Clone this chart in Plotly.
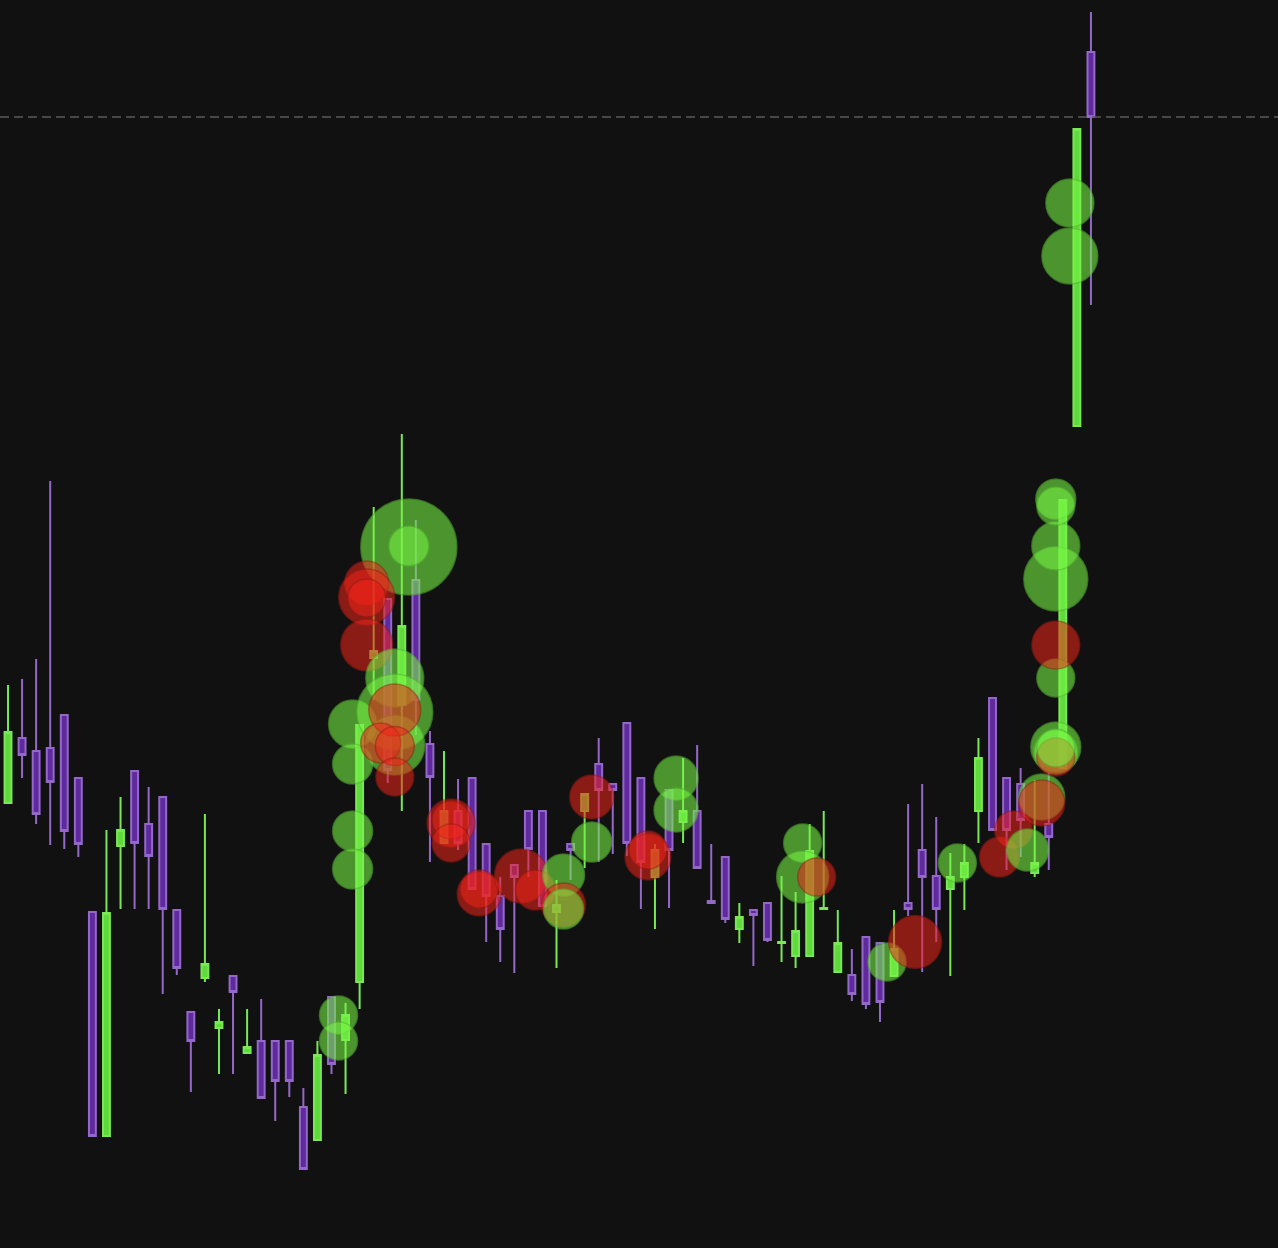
import plotly.graph_objects as go

# ── Velas (índice de barra, precio) ──────────────────────────────────────────
idx = list(range(78))

opens = [
    44.5, 51.0, 49.7, 50.0, 53.3, 47.0, 33.6, 11.2, 40.2, 47.7,
    42.4, 45.1, 33.8, 23.6, 27.0, 22.0, 27.2, 19.5, 20.7, 20.7,
    20.7, 14.1, 10.8, 25.1, 20.8, 26.6, 59.0, 64.9, 54.3, 66.8,
    50.4, 40.5, 43.7, 47.0, 40.4, 35.2, 38.3, 43.7, 43.7, 33.6,
    40.4, 43.7, 48.4, 46.4, 52.5, 47.0, 37.1, 45.8, 42.6, 43.7,
    34.7, 39.1, 31.9, 33.8, 34.5, 30.5, 29.2, 29.2, 33.9, 27.6,
    27.3, 31.1, 30.5, 27.2, 34.5, 39.8, 37.2, 35.9, 37.1, 43.7,
    55.0, 47.0, 46.4, 37.5, 42.4, 48.0, 82.2, 119.6,
]
highs = [
    56.3, 56.9, 58.9, 76.7, 53.3, 47.0, 33.6, 41.8, 45.1, 47.7,
    46.1, 45.1, 33.8, 23.6, 43.4, 23.9, 27.2, 23.9, 24.9, 20.7,
    20.7, 16.0, 20.7, 25.1, 24.5, 52.3, 74.1, 64.9, 81.4, 72.8,
    51.7, 49.7, 46.9, 47.0, 40.4, 37.1, 38.3, 43.7, 43.7, 36.8,
    40.4, 45.4, 51.0, 46.4, 52.5, 47.0, 40.4, 45.8, 49.0, 50.3,
    40.4, 39.1, 34.5, 33.8, 34.5, 37.2, 35.6, 42.4, 43.7, 33.8,
    29.9, 31.1, 30.5, 33.8, 44.4, 46.4, 43.1, 39.5, 40.4, 51.0,
    55.0, 47.0, 48.0, 46.8, 47.6, 74.8, 111.9, 123.6,
]
lows = [
    44.5, 47.0, 42.4, 40.3, 39.9, 39.1, 11.2, 11.2, 33.9, 33.9,
    33.9, 25.4, 27.3, 15.6, 26.6, 17.4, 17.4, 19.5, 15.0, 12.7,
    15.1, 7.9, 10.8, 17.4, 15.4, 23.9, 54.8, 46.5, 43.7, 51.3,
    38.6, 40.5, 39.8, 35.9, 30.6, 28.6, 27.5, 37.1, 34.2, 28.0,
    36.8, 38.0, 38.6, 39.4, 39.2, 33.9, 31.9, 34.0, 40.5, 38.0,
    34.5, 32.5, 30.5, 28.2, 30.6, 28.6, 28.0, 29.2, 33.9, 27.5,
    24.7, 23.9, 22.6, 27.2, 33.2, 27.6, 30.6, 27.2, 33.8, 40.5,
    41.8, 37.8, 39.1, 37.1, 37.8, 48.0, 82.2, 94.3,
]
closes = [
    51.6, 49.3, 43.4, 46.6, 41.7, 40.4, 11.2, 33.5, 41.8, 40.5,
    39.2, 33.9, 28.0, 20.7, 28.4, 22.6, 25.6, 20.1, 15.0, 16.7,
    16.7, 7.9, 19.3, 18.4, 23.3, 52.3, 59.7, 47.8, 62.2, 54.8,
    47.1, 43.7, 40.5, 35.9, 35.2, 31.9, 37.1, 39.9, 34.2, 34.3,
    39.8, 45.4, 45.8, 45.8, 40.5, 38.6, 39.8, 39.8, 43.7, 38.0,
    34.5, 32.9, 33.1, 33.3, 30.8, 30.6, 31.7, 39.7, 34.0, 30.5,
    25.4, 24.4, 24.6, 29.9, 33.9, 37.1, 33.9, 37.1, 38.5, 49.0,
    41.8, 41.8, 42.8, 38.5, 41.1, 74.8, 111.9, 113.1,
]

# ── Operaciones (burbujas) ────────────────────────────────────────────────────
trade_x = [
    23.5, 23.5, 24.5, 24.5, 24.5, 24.5, 28.5, 28.5,
    25.5, 25.5, 25.5, 25.5,
    27.5, 27.5, 27.5, 27.5, 26.5, 27.5, 27.5,
    31.5, 31.5, 31.5, 33.5, 33.5, 36.5, 37.5,
    39.5, 39.5, 39.5, 41.5, 41.5, 45.5, 45.5, 47.5, 47.5,
    56.5, 56.5, 57.5, 62.5, 64.5, 67.5,
    70.5, 71.5, 72.5, 73.5, 73.5,
    74.5, 74.5, 74.5, 74.5, 74.5, 74.5, 74.5, 74.5, 74.5, 74.5,
    75.5, 75.5,
]
trade_price = [
    23.3, 20.7, 41.7, 37.9, 52.4, 48.4, 70.1, 70.2,
    66.5, 65.1, 65.0, 60.3,
    57.0, 53.6, 50.3, 53.8, 50.5, 50.2, 47.1,
    42.5, 42.8, 40.5, 35.4, 35.9, 37.2, 35.8,
    37.3, 34.3, 33.9, 45.1, 40.6, 39.1, 39.8, 47.0, 43.8,
    40.5, 37.1, 37.1, 28.6, 30.6, 38.5,
    39.1, 41.8, 39.8, 45.1, 44.5,
    50.1, 49.6, 49.1, 57.0, 60.3, 66.9, 70.2, 74.9, 74.2, 50.0,
    104.5, 99.2,
]
trade_size = [
    38, 38, 40, 40, 48, 40, 96, 40,
    44, 56, 38, 52,
    58, 76, 60, 52, 40, 39, 38,
    48, 38, 38, 44, 38, 54, 40,
    42, 44, 40, 44, 40, 46, 38, 44, 44,
    38, 52, 38, 38, 53, 38,
    40, 38, 42, 46, 46,
    50, 44, 38, 38, 48, 64, 48, 40, 38, 38,
    48, 56,
]
trade_side = [
    "buy", "buy", "buy", "buy", "buy", "buy", "buy", "buy",
    "sell", "sell", "sell", "sell",
    "buy", "buy", "buy", "sell", "sell", "sell", "sell",
    "sell", "sell", "sell", "sell", "sell", "sell", "sell",
    "buy", "sell", "buy", "sell", "buy", "sell", "sell", "buy", "buy",
    "buy", "buy", "sell", "buy", "sell", "buy",
    "sell", "sell", "buy", "buy", "sell",
    "buy", "buy", "sell", "buy", "sell", "buy", "buy", "buy", "buy", "buy",
    "buy", "buy",
]

BG = "#111111"
UP_FILL, UP_LINE = "#5fd93c", "#78e855"
DN_FILL, DN_LINE = "#5f2a9e", "#9468c9"
BUY = "rgba(118,245,68,0.82)"
SELL = "rgba(240,36,26,0.78)"
BUY_EDGE = "rgba(85,180,50,0.75)"
SELL_EDGE = "rgba(150,25,18,0.7)"

fig = go.Figure()

fig.add_trace(go.Candlestick(
    x=idx, open=opens, high=highs, low=lows, close=closes,
    increasing=dict(fillcolor=UP_FILL, line=dict(color=UP_LINE, width=2)),
    decreasing=dict(fillcolor=DN_FILL, line=dict(color=DN_LINE, width=2)),
    showlegend=False,
))

fig.add_trace(go.Scatter(
    x=trade_x, y=trade_price, mode="markers",
    marker=dict(
        size=trade_size, sizemode="diameter",
        color=[BUY if s == "buy" else SELL for s in trade_side],
        line=dict(width=1.5, color=[BUY_EDGE if s == "buy" else SELL_EDGE for s in trade_side]),
    ),
    showlegend=False,
))

fig.add_hline(y=closes[-1], line=dict(color="#5a5a5a", width=1.5, dash="9px,5px"))

fig.update_layout(
    width=1278, height=1248,
    paper_bgcolor=BG, plot_bgcolor=BG,
    margin=dict(l=0, r=0, t=0, b=0),
    xaxis=dict(visible=False, range=[-0.57, 90.3], rangeslider=dict(visible=False)),
    yaxis=dict(visible=False, range=[0, 124.8]),
    showlegend=False,
)

fig.write_html(
    "out.html",
    config={"displayModeBar": False},
    post_script="document.body.style.margin='0';document.body.style.background='#111111';",
)
